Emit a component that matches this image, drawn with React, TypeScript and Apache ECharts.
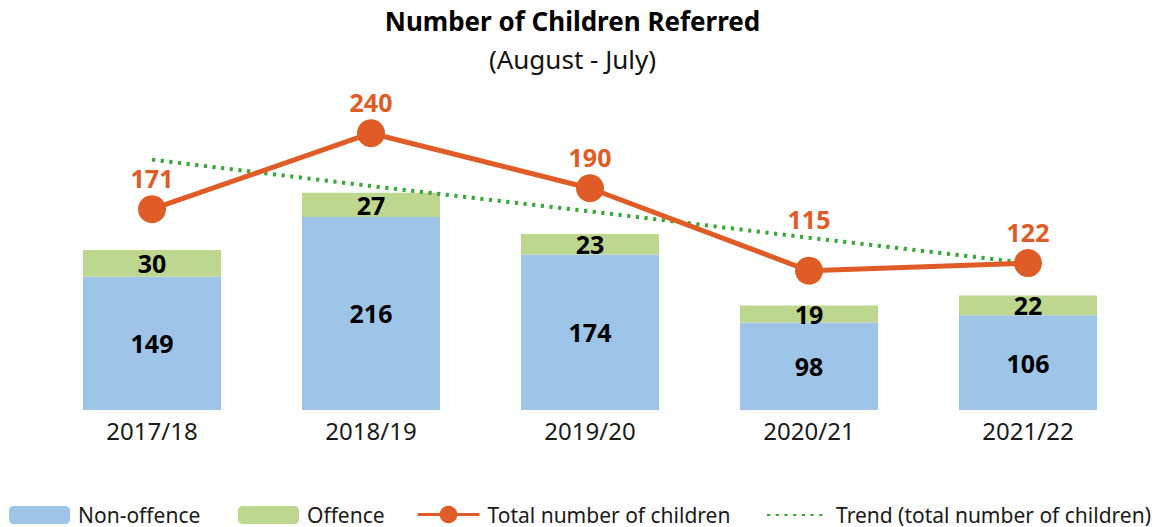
import React, { useEffect, useRef } from "react";
import * as echarts from "echarts";

const categories = ["2017/18", "2018/19", "2019/20", "2020/21", "2021/22"];
const nonOffence = [149, 216, 174, 98, 106];
const offence = [30, 27, 23, 19, 22];
const totalChildren = [171, 240, 190, 115, 122];
const trendTotal = [216, 192, 169, 145, 122];
const titleText = "Number of Children Referred";
const subtitleText = "(August - July)";
const seriesNames = [
  "Non-offence",
  "Offence",
  "Total number of children",
  "Trend (total number of children)",
];

const FONT = "Noto Sans";
const BLUE = "#9EC4E8";
const GREEN = "#BED78F";
const ORANGE = "#E05C26";
const DOTS = "#38A838";
const TEXT = "#1a1a1a";

export default function App() {
  const ref = useRef<HTMLDivElement>(null);
  useEffect(() => {
    if (!ref.current) return;
    const chart = echarts.init(ref.current, undefined, { renderer: "svg" });
    const legendText = { fontFamily: FONT, fontSize: 21, color: TEXT, padding: [0, 0, 0, 3] };
    const totalData = totalChildren.map((v, i) =>
      i === 3 ? { value: v, label: { offset: [0, -20] } } : v
    );
    chart.setOption({
      animation: false,
      backgroundColor: "#ffffff",
      textStyle: { fontFamily: FONT },
      title: {
        text: titleText,
        subtext: subtitleText,
        left: 572.5,
        textAlign: "center",
        top: 8.4,
        padding: 0,
        itemGap: 11.5,
        textStyle: { fontFamily: FONT, fontSize: 26, fontWeight: "bold", color: "#000" },
        subtextStyle: { fontFamily: FONT, fontSize: 26, color: "#111" },
      },
      grid: { left: 42.5, right: 20.5, top: 90, bottom: 117, containLabel: false },
      legend: [
        {
          data: [seriesNames[0]], left: 9, top: 504.5, padding: 0,
          itemWidth: 61, itemHeight: 18, selectedMode: false, textStyle: legendText,
        },
        {
          data: [seriesNames[1]], left: 238, top: 504.5, padding: 0,
          itemWidth: 61, itemHeight: 18, selectedMode: false, textStyle: legendText,
        },
        {
          data: [seriesNames[2]], left: 416, top: 504, padding: 0,
          itemWidth: 62, itemHeight: 22, selectedMode: false, textStyle: legendText,
          lineStyle: { width: 3 },
        },
        {
          data: [seriesNames[3]], left: 766, top: 504.5, padding: 0,
          itemWidth: 61, itemHeight: 18, selectedMode: false, textStyle: legendText,
          itemStyle: { color: "transparent", opacity: 0, borderWidth: 0 },
        },
      ],
      xAxis: {
        type: "category",
        data: categories,
        axisLine: { show: false },
        axisTick: { show: false },
        splitLine: { show: false },
        axisLabel: { fontFamily: FONT, fontSize: 24, color: TEXT, margin: 8 },
      },
      yAxis: [
        { type: "value", min: 0, max: 358, show: false, splitLine: { show: false } },
        { type: "value", min: -11.6, max: 279.3, show: false, splitLine: { show: false } },
      ],
      series: [
        {
          name: seriesNames[0],
          type: "bar",
          stack: "kids",
          data: nonOffence,
          barWidth: 138,
          itemStyle: { color: BLUE },
          label: {
            show: true, position: "inside", fontFamily: FONT, fontSize: 25,
            fontWeight: "bold", color: "#000",
          },
          z: 1,
        },
        {
          name: seriesNames[1],
          type: "bar",
          stack: "kids",
          data: offence,
          barWidth: 138,
          itemStyle: { color: GREEN },
          label: {
            show: true, position: "inside", fontFamily: FONT, fontSize: 25,
            fontWeight: "bold", color: "#000",
          },
          z: 1,
        },
        {
          name: seriesNames[2],
          type: "line",
          yAxisIndex: 1,
          data: totalData,
          symbol: "circle",
          symbolSize: 28,
          itemStyle: { color: ORANGE },
          lineStyle: { color: ORANGE, width: 5 },
          label: {
            show: true, position: "top", distance: 5, fontFamily: FONT, fontSize: 25,
            fontWeight: "bold", color: ORANGE,
          },
          z: 4,
        },
        {
          name: seriesNames[3],
          type: "line",
          yAxisIndex: 1,
          data: trendTotal,
          symbol: "none",
          itemStyle: { color: DOTS },
          lineStyle: { color: DOTS, width: 4, type: [3.2, 5.5], cap: "butt" },
          z: 3,
        },
      ],
    });
    return () => chart.dispose();
  }, []);
  return (
    <div
      ref={ref}
      style={{ position: "fixed", left: 0, top: 0, width: 1158, height: 527, background: "#fff" }}
    />
  );
}
